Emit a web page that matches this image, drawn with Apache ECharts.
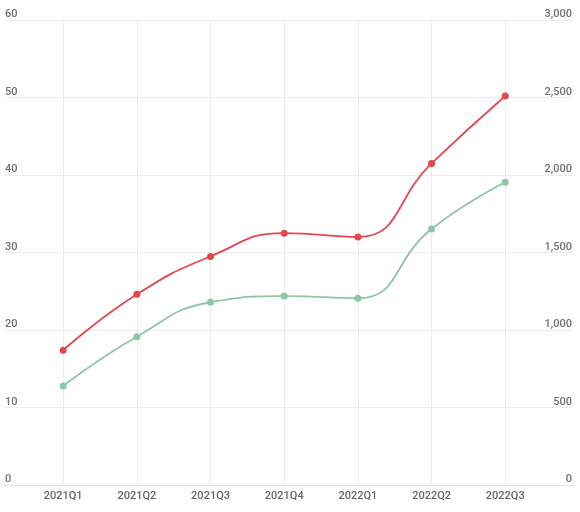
<!DOCTYPE html>
<html>
<head>
<meta charset="utf-8">
<script src="https://cdn.jsdelivr.net/npm/echarts@6/dist/echarts.min.js"></script>
<style>html,body{margin:0;padding:0;background:#fff;}#c{width:580px;height:512px;}</style>
</head>
<body>
<div id="c"></div>
<script>
var categories = ['2021Q1','2021Q2','2021Q3','2021Q4','2022Q1','2022Q2','2022Q3'];
var redValues = [17.4, 24.6, 29.5, 32.5, 32.0, 41.5, 50.2];
var greenValues = [639, 957, 1179, 1219, 1205, 1652, 1953];
var leftTicks = [0, 10, 20, 30, 40, 50, 60];
var rightTicks = [0, 500, 1000, 1500, 2000, 2500, 3000];

var chart = echarts.init(document.getElementById('c'), null, {renderer: 'canvas'});
var labelStyle = {color: '#707070', fontSize: 11, fontFamily: 'Roboto', fontWeight: 500};
chart.setOption({
  animation: false,
  grid: {left: 5, right: 7, top: 20, bottom: 27, containLabel: false},
  xAxis: {
    type: 'value', min: -0.79, max: 6.92, splitNumber: 7,
    axisLine: {show: true, lineStyle: {color: '#e6e6e6'}},
    axisTick: {show: false},
    splitLine: {show: true, showMinLine: false, showMaxLine: false, lineStyle: {color: '#ececec'}},
    axisLabel: Object.assign({}, labelStyle, {color: '#666', margin: 6,
      showMinLabel: false, showMaxLabel: false,
      formatter: function (v) { return Number.isInteger(v) && categories[v] ? categories[v] : ''; }})
  },
  yAxis: [{
    type: 'value', min: leftTicks[0], max: leftTicks[leftTicks.length - 1], interval: 10,
    axisLine: {show: false}, axisTick: {show: false},
    splitLine: {lineStyle: {color: '#ececec'}},
    axisLabel: Object.assign({}, labelStyle, {inside: true, margin: 0, verticalAlign: 'bottom', lineHeight: 11, padding: [0, 0, 0, 0]})
  }, {
    type: 'value', min: rightTicks[0], max: rightTicks[rightTicks.length - 1], interval: 500,
    axisLine: {show: false}, axisTick: {show: false}, splitLine: {show: false},
    axisLabel: Object.assign({}, labelStyle, {inside: true, margin: 1, verticalAlign: 'bottom', lineHeight: 11, padding: [0, 0, 0, 0],
      formatter: function (v) { return v.toLocaleString('en-US'); }})
  }],
  series: [{
    type: 'line', yAxisIndex: 0, smooth: true, symbol: 'circle', symbolSize: 7,
    data: redValues.map(function (v, i) { return [i, v]; }),
    lineStyle: {color: '#e4484e', width: 1.8}, itemStyle: {color: '#e4484e'}
  }, {
    type: 'line', yAxisIndex: 1, smooth: true, symbol: 'circle', symbolSize: 7,
    data: greenValues.map(function (v, i) { return [i, v]; }),
    lineStyle: {color: '#8ec6a6', width: 1.8}, itemStyle: {color: '#8ec6a6'}
  }]
});
</script>
</body>
</html>
